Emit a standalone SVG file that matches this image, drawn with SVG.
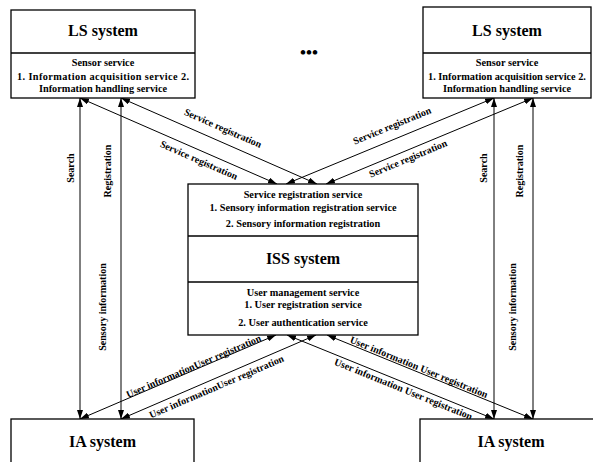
<svg xmlns="http://www.w3.org/2000/svg" width="593" height="462" viewBox="0 0 593 462">
<style>
text{font-family:"Liberation Serif","Times New Roman",serif;font-weight:bold;fill:#000}
.t{font-size:16px;text-anchor:middle}
.s{font-size:10.3px;text-anchor:middle}
.l{font-size:10px;text-anchor:middle;dominant-baseline:central}
.box{fill:#fff;stroke:#000;stroke-width:1.3}
.div{stroke:#000;stroke-width:1.3}
.c line{stroke:#000;stroke-width:1;marker-start:url(#ah);marker-end:url(#ah)}
</style>
<defs>
<marker id="ah" viewBox="0 0 9 6" markerWidth="9" markerHeight="6" refX="9" refY="3" orient="auto-start-reverse" markerUnits="userSpaceOnUse">
<path d="M0,0 L9,3 L0,6 z" fill="#000"/>
</marker>
</defs>
<rect width="593" height="462" fill="#fff"/>
<g id="connectors" class="c">
<line x1="80" y1="419" x2="80" y2="98"/>
<line x1="121" y1="419" x2="121" y2="98"/>
<line x1="494" y1="419" x2="494" y2="98"/>
<line x1="533" y1="419" x2="533" y2="98"/>
<line x1="80" y1="98" x2="277" y2="184"/>
<line x1="121" y1="98" x2="317" y2="184"/>
<line x1="494" y1="98" x2="286" y2="184"/>
<line x1="533" y1="98" x2="326" y2="184"/>
<line x1="80" y1="419" x2="276" y2="335"/>
<line x1="121" y1="419" x2="316" y2="335"/>
<line x1="494" y1="419" x2="287" y2="335"/>
<line x1="533" y1="419" x2="327" y2="335"/>
</g>
<g id="labels">
<text class="l" transform="translate(70,168) rotate(-90)">Search</text>
<text class="l" transform="translate(107,171) rotate(-90)">Registration</text>
<text class="l" transform="translate(102,307) rotate(-90)">Sensory information</text>
<text class="l" transform="translate(483,168) rotate(-90)">Search</text>
<text class="l" transform="translate(519,171) rotate(-90)">Registration</text>
<text class="l" transform="translate(512,307) rotate(-90)">Sensory information</text>
<text class="l" transform="translate(223,128) rotate(23.7)">Service registration</text>
<text class="l" transform="translate(199,160) rotate(23.6)">Service registration</text>
<text class="l" transform="translate(392,125.5) rotate(-22.5)">Service registration</text>
<text class="l" transform="translate(408,158.5) rotate(-22.6)">Service registration</text>
<text class="l" transform="translate(193.5,366) rotate(-23.2)">User informationUser registration</text>
<text class="l" transform="translate(216.5,386.5) rotate(-23.3)">User informationUser registration</text>
<text class="l" transform="translate(419,367) rotate(22.2)">User information User registration</text>
<text class="l" transform="translate(403.5,389) rotate(22.1)">User information User registration</text>
</g>
<g id="ls-left">
<rect class="box" x="11" y="10" width="184" height="88"/>
<line class="div" x1="11" y1="53" x2="195" y2="53"/>
<text class="t" x="103" y="36">LS system</text>
<text class="s" x="103" y="66">Sensor service</text>
<text class="s" x="103" y="80" textLength="172" lengthAdjust="spacing">1. Information acquisition service 2.</text>
<text class="s" x="103" y="92">Information handling service</text>
</g>
<g id="ls-right">
<rect class="box" x="423" y="7" width="168" height="91"/>
<line class="div" x1="423" y1="53" x2="591" y2="53"/>
<text class="t" x="507" y="36">LS system</text>
<text class="s" x="507" y="66">Sensor service</text>
<text class="s" x="507" y="80">1. Information acquisition service 2.</text>
<text class="s" x="507" y="92">Information handling service</text>
</g>
<g id="ellipsis">
<text x="309" y="58" style="font-size:17px;text-anchor:middle">•••</text>
</g>
<g id="iss">
<rect class="box" x="188" y="184" width="230" height="151"/>
<line class="div" x1="188" y1="236" x2="418" y2="236"/>
<line class="div" x1="188" y1="282" x2="418" y2="282"/>
<text class="s" x="303" y="198">Service registration service</text>
<text class="s" x="303" y="211">1. Sensory information registration service</text>
<text class="s" x="303" y="227">2. Sensory information registration</text>
<text class="t" x="303" y="264">ISS system</text>
<text class="s" x="303" y="296">User management service</text>
<text class="s" x="303" y="308">1. User registration service</text>
<text class="s" x="303" y="326">2. User authentication service</text>
</g>
<g id="ia-left">
<rect class="box" x="11" y="419" width="183" height="60"/>
<text class="t" x="102.5" y="447">IA system</text>
</g>
<g id="ia-right">
<rect class="box" x="420" y="419" width="182" height="60"/>
<text class="t" x="511" y="447">IA system</text>
</g>
</svg>
